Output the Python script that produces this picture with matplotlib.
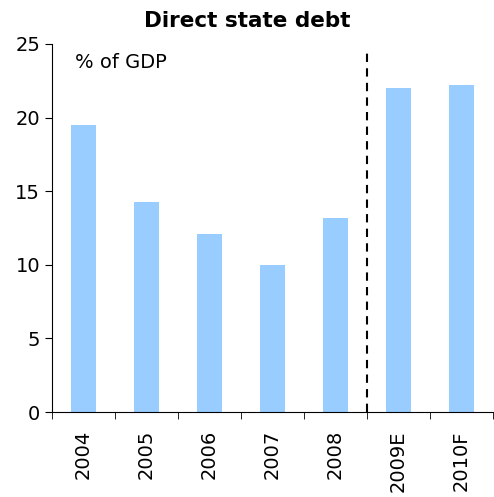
import numpy as np
import matplotlib
matplotlib.use("Agg")
import matplotlib.pyplot as plt

# Direct state debt, % of GDP
years = ["2004", "2005", "2006", "2007", "2008", "2009E", "2010F"]
debt = [19.5, 14.3, 12.1, 10.0, 13.2, 22.0, 22.2]
forecast_start = 5  # first estimated year

fig = plt.figure(figsize=(4.94, 4.97), dpi=100)
ax = fig.add_axes([0.105, 0.171, 0.893, 0.7405])

x = np.arange(len(years))
ax.bar(x, debt, width=0.4, color="#99CCFF", zorder=2)

# split between actual and forecast years
ax.vlines(forecast_start - 0.5, 0, 24.4, colors="black", linestyles=(0, (4, 3)),
          linewidth=1.5, zorder=3)

ax.set_xlim(-0.5, len(years) - 0.5)
ax.set_ylim(0, 25)
ax.set_yticks(np.arange(0, 26, 5))

ax.set_xticks(x)
ax.set_xticklabels(years, rotation=90, fontsize=14)
ax.set_xticks(np.arange(-0.5, len(years)), minor=True)
ax.tick_params(axis="x", which="major", length=0, pad=13)
ax.tick_params(axis="x", which="minor", length=5, direction="out")
ax.tick_params(axis="y", labelsize=14, length=5, direction="out")

for side in ["top", "right"]:
    ax.spines[side].set_visible(False)

ax.text(0.052, 0.951, "% of GDP", transform=ax.transAxes, fontsize=14,
        va="center", ha="left")
fig.suptitle("Direct state debt", x=0.5, y=0.945, va="baseline",
             fontsize=15.5, fontweight="bold")

fig.savefig("out.png", dpi=100)
